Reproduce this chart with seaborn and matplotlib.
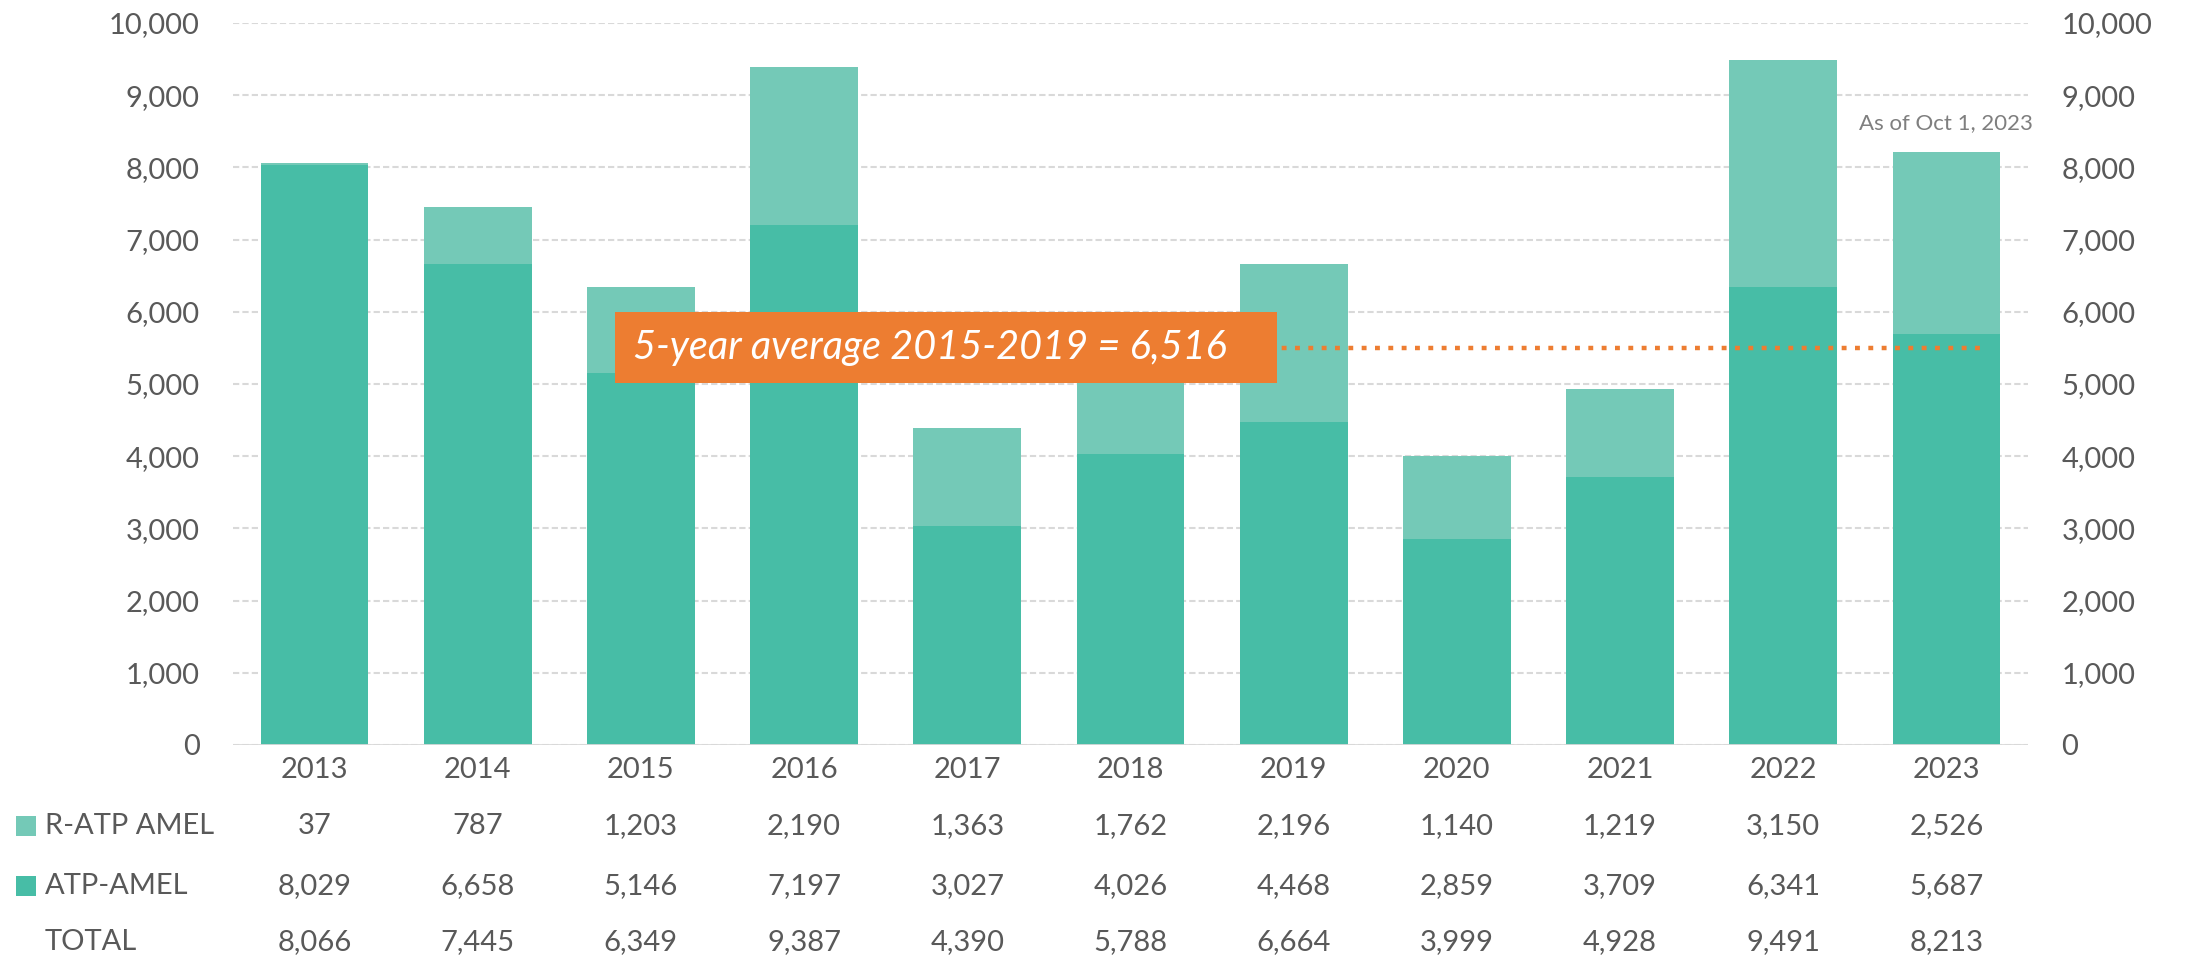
import matplotlib
matplotlib.use("Agg")
import matplotlib.pyplot as plt
from matplotlib.patches import Rectangle
import seaborn as sns
import pandas as pd

years = ["2013", "2014", "2015", "2016", "2017", "2018", "2019", "2020", "2021", "2022", "2023"]
r_atp_amel = [37, 787, 1203, 2190, 1363, 1762, 2196, 1140, 1219, 3150, 2526]
atp_amel = [8029, 6658, 5146, 7197, 3027, 4026, 4468, 2859, 3709, 6341, 5687]
totals = [8066, 7445, 6349, 9387, 4390, 5788, 6664, 3999, 4928, 9491, 8213]
row_labels = ["R-ATP AMEL", "ATP-AMEL", "TOTAL"]
avg_text = "5-year average 2015-2019 = 6,516"
avg_line_level = 5500
note_text = "As of Oct 1, 2023"

dark = "#47BDA6"
light = "#74C9B7"
orange = "#ED7D31"
grey = "#595959"

df = pd.DataFrame({"year": years, "r": r_atp_amel, "atp": atp_amel, "total": totals})

sns.set_theme(style="white")
plt.rcParams["font.family"] = ["Lato", "DejaVu Sans"]

fig = plt.figure(figsize=(21.87, 9.6), dpi=100)
ax = fig.add_axes([0.1065, 0.224, 0.8208, 0.752])

# stacked bars: total (light) behind, ATP-AMEL (dark) in front
sns.barplot(data=df, x="year", y="total", color=light, saturation=1, width=0.66,
            linewidth=0, ax=ax, zorder=3)
sns.barplot(data=df, x="year", y="atp", color=dark, saturation=1, width=0.66,
            linewidth=0, ax=ax, zorder=4)

ax.set_xlim(-0.5, len(years) - 0.5)
ax.set_ylim(0, 10000)
ax.set_yticks(range(0, 10001, 1000))
ax.set_yticklabels([f"{v:,}" for v in range(0, 10001, 1000)])
ax.yaxis.grid(True, linestyle=(0, (3, 1.5)), color="#D9D9D9", linewidth=1.5, zorder=0)
ax.set_axisbelow(True)
for s in ax.spines.values():
    s.set_visible(False)
ax.axhline(0, color="#D9D9D9", linewidth=2, zorder=5)
ax.set_xlabel("")
ax.set_ylabel("")
ax.tick_params(axis="y", length=0, pad=24, labelsize=21, labelcolor=grey)
ax.tick_params(axis="x", length=0, pad=9, labelsize=21, labelcolor=grey)

ax2 = ax.twinx()
ax2.set_ylim(ax.get_ylim())
ax2.set_yticks(range(0, 10001, 1000))
ax2.set_yticklabels([f"{v:,}" for v in range(0, 10001, 1000)])
ax2.tick_params(axis="y", length=0, pad=24, labelsize=21, labelcolor=grey)
for s in ax2.spines.values():
    s.set_visible(False)
ax2.grid(False)

# average line and box
ax.plot([1.84, 10.25], [avg_line_level, avg_line_level], color=orange, linewidth=3.2,
        linestyle=(0, (1.1, 1.9)), dash_capstyle="butt", zorder=6)
ax.add_patch(Rectangle((1.84, avg_line_level - 480), 4.06, 980, facecolor=orange,
                       edgecolor="none", zorder=7))
ax.text(1.95, avg_line_level + 10, avg_text, color="white", fontsize=28.5, style="italic",
        va="center", ha="left", zorder=8)

ax.text(10, 8615, note_text, color="#7F7F7F", fontsize=16,
        ha="center", va="center", zorder=8)

# data table under the chart
trans = ax.get_xaxis_transform()
rows = [r_atp_amel, atp_amel, totals]
row_y = [-0.112, -0.195, -0.273]
for vals, yy in zip(rows, row_y):
    for i, v in enumerate(vals):
        ax.text(i, yy, f"{v:,}", transform=trans, ha="center", va="center",
                fontsize=21, color=grey)

fig_y = [0.224 + 0.752 * y for y in row_y]
for lab, yy, col in zip(row_labels, fig_y, [light, dark, None]):
    if col is not None:
        fig.patches.append(Rectangle((16 / 2187, yy - 10 / 960), 20 / 2187, 20 / 960,
                                     transform=fig.transFigure, facecolor=col,
                                     edgecolor="none"))
    fig.text(45 / 2187, yy, lab, ha="left", va="center", fontsize=21, color=grey)

fig.savefig("out.png", dpi=100)
